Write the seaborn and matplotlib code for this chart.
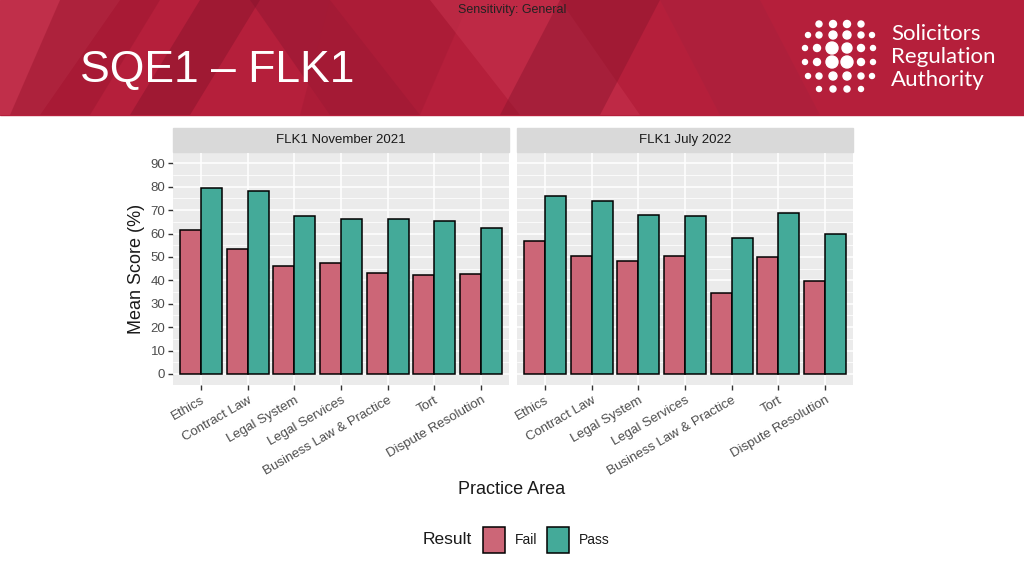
import matplotlib
matplotlib.use("Agg")
import matplotlib.pyplot as plt
import seaborn as sns
import pandas as pd
from matplotlib.patches import Rectangle, Polygon, Patch

# ---- data ----
areas = ["Ethics", "Contract Law", "Legal System", "Legal Services",
         "Business Law & Practice", "Tort", "Dispute Resolution"]
sittings = ["FLK1 November 2021", "FLK1 July 2022"]
results = ["Fail", "Pass"]
fail_nov21 = [61.3, 53.4, 46.3, 47.2, 43.3, 42.3, 42.9]
pass_nov21 = [79.5, 78.2, 67.5, 66.2, 66.1, 65.4, 62.3]
fail_jul22 = [56.6, 50.6, 48.1, 50.4, 34.5, 49.9, 39.9]
pass_jul22 = [76.1, 74.1, 68.1, 67.5, 58.1, 68.7, 59.7]
yticks = list(range(0, 91, 10))

rows = []
for s, fv, pv in [(sittings[0], fail_nov21, pass_nov21), (sittings[1], fail_jul22, pass_jul22)]:
    for a, f, p in zip(areas, fv, pv):
        rows.append({"Sitting": s, "Practice Area": a, "Result": "Fail", "Mean Score": f})
        rows.append({"Sitting": s, "Practice Area": a, "Result": "Pass", "Mean Score": p})
df = pd.DataFrame(rows)

sns.set_theme(style="white")
plt.rcParams["font.family"] = ["Liberation Sans", "DejaVu Sans"]

palette = {"Fail": "#CC6677", "Pass": "#44AA99"}

fig = plt.figure(figsize=(10.24, 5.76), dpi=100)
fig.patch.set_facecolor("white")

# ---- header banner (decoration) ----
bg = fig.add_axes([0, 0, 1, 1], zorder=-5)
bg.set_xlim(0, 1024)
bg.set_ylim(576, 0)
bg.axis("off")
bg.add_patch(Rectangle((0, 0), 1024, 115, color="#B51F3B", zorder=0))
shapes = [
    ([(0, 0), (120, 0), (40, 115), (0, 115)], "#C93A55", 0.6),
    ([(60, 0), (160, 0), (90, 115), (10, 115)], "#9C1730", 0.5),
    ([(250, 0), (330, 0), (420, 115), (330, 115)], "#8F1530", 0.45),
    ([(330, 0), (470, 0), (420, 115), (300, 115)], "#A51A35", 0.5),
    ([(430, 0), (560, 0), (640, 115), (520, 115)], "#C8344F", 0.5),
    ([(560, 0), (660, 0), (600, 115), (500, 115)], "#8A142D", 0.45),
    ([(660, 0), (760, 0), (820, 115), (720, 115)], "#A8203B", 0.5),
    ([(200, 0), (260, 0), (190, 115), (130, 115)], "#7E1029", 0.4),
]
for pts, c, a in shapes:
    bg.add_patch(Polygon(pts, closed=True, color=c, alpha=a, lw=0, zorder=1))
bg.text(80, 70, "SQE1 \u2013 FLK1", color="white", fontsize=32, va="center", ha="left",
        family=["Liberation Sans", "DejaVu Sans"], zorder=3)
bg.text(512, 10, "Sensitivity: General", color="#222222", fontsize=9, va="center", ha="center", zorder=3)
# logo dots
dot_rows = [
    (24, [819, 833, 847, 861], [3, 3.5, 3.5, 3]),
    (35, [808, 819, 833, 847, 861, 872], [2.5, 3, 4, 4, 3, 2.5]),
    (48, [805, 817, 832, 847, 861, 873], [2.5, 3.5, 6, 5, 3.5, 2.5]),
    (62, [805, 817, 832, 847, 861, 873], [2.5, 3.5, 6, 6, 3.5, 2.5]),
    (76, [808, 819, 833, 847, 861, 872], [2.5, 3, 4, 4, 3, 2.5]),
    (89, [819, 833, 847, 861], [2.5, 3, 3, 2.5]),
]
for y, xs, rs in dot_rows:
    for x, r in zip(xs, rs):
        bg.add_patch(plt.Circle((x, y), r, color="white", zorder=3))
for y, t in [(34, "Solicitors"), (57, "Regulation"), (80, "Authority")]:
    bg.text(891, y, t, color="white", fontsize=16, va="center", ha="left",
            family=["Lato", "Open Sans", "DejaVu Sans"], zorder=3)

# ---- panels ----
W, H = 1024, 576
panel_lefts = [173, 517]
panel_w = 336
top, bottom = 153, 385
strip_h = 25
ylim = (-4.7, 94.4)

for i, (s, left) in enumerate(zip(sittings, panel_lefts)):
    ax = fig.add_axes([left / W, 1 - bottom / H, panel_w / W, (bottom - top) / H])
    ax.set_facecolor("#EBEBEB")
    sub = df[df["Sitting"] == s]
    sns.barplot(data=sub, x="Practice Area", y="Mean Score", hue="Result",
                order=areas, hue_order=results, palette=palette, width=0.9,
                edgecolor="black", linewidth=1.1, saturation=1, legend=False, ax=ax,
                zorder=3)
    ax.set_xlim(-0.6, 6.6)
    ax.set_ylim(*ylim)
    for y in yticks:
        ax.axhline(y, color="white", lw=1.1, zorder=1)
    for y in range(5, 90, 10):
        ax.axhline(y, color="white", lw=0.55, zorder=1)
    for x in range(len(areas)):
        ax.axvline(x, color="white", lw=1.1, zorder=1)
    for sp in ax.spines.values():
        sp.set_visible(False)
    ax.set_xlabel("")
    ax.set_ylabel("")
    ax.set_xticks(range(len(areas)))
    ax.set_xticklabels(areas, rotation=30, ha="right", rotation_mode="anchor",
                       fontsize=9.5, color="#4D4D4D")
    ax.tick_params(axis="x", length=3.5, width=1, color="#333333", pad=3, bottom=True)
    if i == 0:
        ax.set_yticks(yticks)
        ax.set_yticklabels([str(v) for v in yticks], fontsize=9.5, color="#4D4D4D")
        ax.tick_params(axis="y", length=3.5, width=1, color="#333333", pad=2, left=True)
        ax.set_ylabel("Mean Score (%)", fontsize=13, color="#1A1A1A", labelpad=4)
    else:
        ax.set_yticks([])
    # strip
    sh = strip_h / (bottom - top)
    ax.add_patch(Rectangle((0, 1.005), 1, sh - 0.005, transform=ax.transAxes,
                           color="#D9D9D9", clip_on=False, zorder=0))
    ax.text(0.5, 1 + sh / 2 + 0.003, s, transform=ax.transAxes, ha="center", va="center",
            fontsize=9.5, color="#1A1A1A")

fig.text(512 / W, 1 - 490 / H, "Practice Area", ha="center", va="center",
         fontsize=13, color="#1A1A1A")

# ---- legend ----
fig.text(447 / W, 1 - 540 / H, "Result", ha="center", va="center", fontsize=12.5, color="#1A1A1A")
handles = [Patch(facecolor=palette[r], edgecolor="black", linewidth=1.1, label=r) for r in results]
leg = fig.legend(handles=handles, loc="center left", bbox_to_anchor=(470 / W, 1 - 540 / H),
                 ncol=2, frameon=False, fontsize=10, handlelength=1.6, handleheight=2.5,
                 handletextpad=0.7, columnspacing=0.7)
for t in leg.get_texts():
    t.set_color("#1A1A1A")

fig.savefig("out.png", dpi=100, facecolor="white")
